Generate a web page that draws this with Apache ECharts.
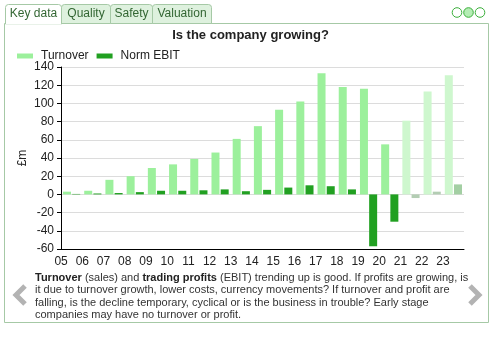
<!DOCTYPE html>
<html>
<head>
<meta charset="utf-8">
<script src="https://cdn.jsdelivr.net/npm/echarts@6/dist/echarts.min.js"></script>
<style>
  html, body { margin: 0; padding: 0; background: #fff; }
  #chart { width: 501px; height: 341px; }
</style>
</head>
<body>
<div id="chart"></div>
<script>
// Financial years (last two digits) and values in £m
const years = ['05','06','07','08','09','10','11','12','13','14','15','16','17','18','19','20','21','22','23'];
const turnover = [3, 4, 16, 20, 29, 33, 39, 46, 61, 75, 93, 102, 133, 118, 116, 55, 81, 113, 131];
const normEbit = [0.5, 1, 1.5, 2.5, 4, 4, 4.5, 5.5, 3.5, 5, 7.5, 10, 9, 5.5, -57, -30, -4, 3, 11];
// Years from this index onward are forecasts
const forecastFrom = 16;
const yTicks = { min: -60, max: 140, interval: 20 };

const FONT = 'Arial, "Liberation Sans", sans-serif';
const C = {
  turnover: '#9cf09c', turnoverF: '#cef7ce',
  ebit: '#21a021', ebitF: '#b3cdb3', ebitF2: '#a3cfa3',
  border: '#a6c9a6', tab: '#def1de', tabText: '#336633'
};

const turnoverData = turnover.map((v, i) => ({
  value: v,
  itemStyle: { color: i >= forecastFrom ? C.turnoverF : C.turnover }
}));
const ebitData = normEbit.map((v, i) => ({
  value: v,
  itemStyle: { color: i >= forecastFrom ? (v > 5 ? C.ebitF2 : C.ebitF) : C.ebit }
}));

// Tab strip, frame and footer
const tabs = [
  { name: 'Key data', x: 5, w: 56, active: true },
  { name: 'Quality', x: 61, w: 49 },
  { name: 'Safety', x: 110, w: 42 },
  { name: 'Valuation', x: 152, w: 59 }
];
const graphics = [
  { type: 'rect', z: -10, shape: { x: 4.5, y: 23.5, width: 484, height: 299 },
    style: { fill: '#fff', stroke: C.border, lineWidth: 1 } }
];
tabs.forEach(t => {
  graphics.push({
    type: 'rect', z: -9,
    shape: { x: t.x + 0.5, y: 4.5, width: t.w, height: t.active ? 19.5 : 19, r: [3, 3, 0, 0] },
    style: { fill: t.active ? '#fff' : C.tab, stroke: C.border, lineWidth: 1 }
  });
  graphics.push({
    type: 'text', z: -8, x: t.x + 0.5 + t.w / 2, y: 14,
    style: { text: t.name, fill: C.tabText, font: '12px ' + FONT, align: 'center', verticalAlign: 'middle' }
  });
});
// cover the frame's top line under the active tab
graphics.push({ type: 'rect', z: -8, shape: { x: 6, y: 22.5, width: 55, height: 2 }, style: { fill: '#fff' } });
// page indicator dots
[457, 468.5, 480].forEach((cx, i) => {
  graphics.push({ type: 'circle', z: -8, shape: { cx: cx, cy: 12.5, r: 4.8 },
    style: { fill: i === 1 ? '#b4edb4' : '#fff', stroke: '#3aae3a', lineWidth: 1 } });
});
// explanation text
graphics.push({
  type: 'text', z: -8, x: 35, y: 272,
  style: {
    text: '{b|Turnover} (sales) and {b|trading profits} (EBIT) trending up is good. If profits are growing, is\n' +
          'it due to turnover growth, lower costs, currency movements? If turnover and profit are\n' +
          'falling, is the decline temporary, cyclical or is the business in trouble? Early stage\n' +
          'companies may have no turnover or profit.',
    fill: '#333', font: '11px ' + FONT, lineHeight: 12.3,
    rich: { b: { fill: '#222', font: 'bold 11px ' + FONT, lineHeight: 12.3 } }
  }
});
// navigation chevrons
graphics.push({ type: 'polyline', z: -8, shape: { points: [[25, 286], [16, 295], [25, 304]] },
  style: { stroke: '#b3b3b3', lineWidth: 5, fill: null, lineJoin: 'miter' } });
graphics.push({ type: 'polyline', z: -8, shape: { points: [[470, 286], [479, 295], [470, 304]] },
  style: { stroke: '#b3b3b3', lineWidth: 5, fill: null, lineJoin: 'miter' } });

const option = {
  animation: false,
  title: {
    text: 'Is the company growing?', left: 'center', top: 24,
    textStyle: { fontFamily: FONT, fontSize: 13, fontWeight: 'bold', color: '#222' }
  },
  legend: {
    left: 12, top: 45, icon: 'rect', itemWidth: 16, itemHeight: 5, itemGap: 8,
    textStyle: { fontFamily: FONT, fontSize: 12, color: '#222', padding: [0, 0, 0, 3] },
    data: [
      { name: 'Turnover', itemStyle: { color: C.turnover } },
      { name: 'Norm EBIT', itemStyle: { color: C.ebit } }
    ]
  },
  grid: { left: 61, right: 37, top: 67, bottom: 92 },
  xAxis: {
    type: 'category', data: years, boundaryGap: true,
    axisLine: { onZero: false, lineStyle: { color: '#000', width: 1 } },
    axisTick: { length: 6, lineStyle: { color: '#000' } },
    axisLabel: { fontFamily: FONT, fontSize: 12, color: '#222', margin: 7, padding: [0, 21, 0, 0], interval: 0 }
  },
  yAxis: {
    type: 'value', min: yTicks.min, max: yTicks.max, interval: yTicks.interval,
    name: '£m', nameLocation: 'middle', nameGap: 32, nameRotate: 90, nameMoveOverlap: false,
    nameTextStyle: { fontFamily: FONT, fontSize: 12, color: '#222' },
    axisLine: { show: true, lineStyle: { color: '#000' } },
    axisTick: { show: true, length: 4, lineStyle: { color: '#000' } },
    axisLabel: { fontFamily: FONT, fontSize: 12, color: '#222', margin: 7 },
    splitLine: { lineStyle: { color: '#dcdcdc' } }
  },
  series: [
    { name: 'Turnover', type: 'bar', data: turnoverData, barWidth: 8, barGap: '15%', itemStyle: { color: C.turnover } },
    { name: 'Norm EBIT', type: 'bar', data: ebitData, barWidth: 8, itemStyle: { color: C.ebit } }
  ],
  graphic: graphics
};

const chart = echarts.init(document.getElementById('chart'), null, { renderer: 'canvas' });
chart.setOption(option);
</script>
</body>
</html>
